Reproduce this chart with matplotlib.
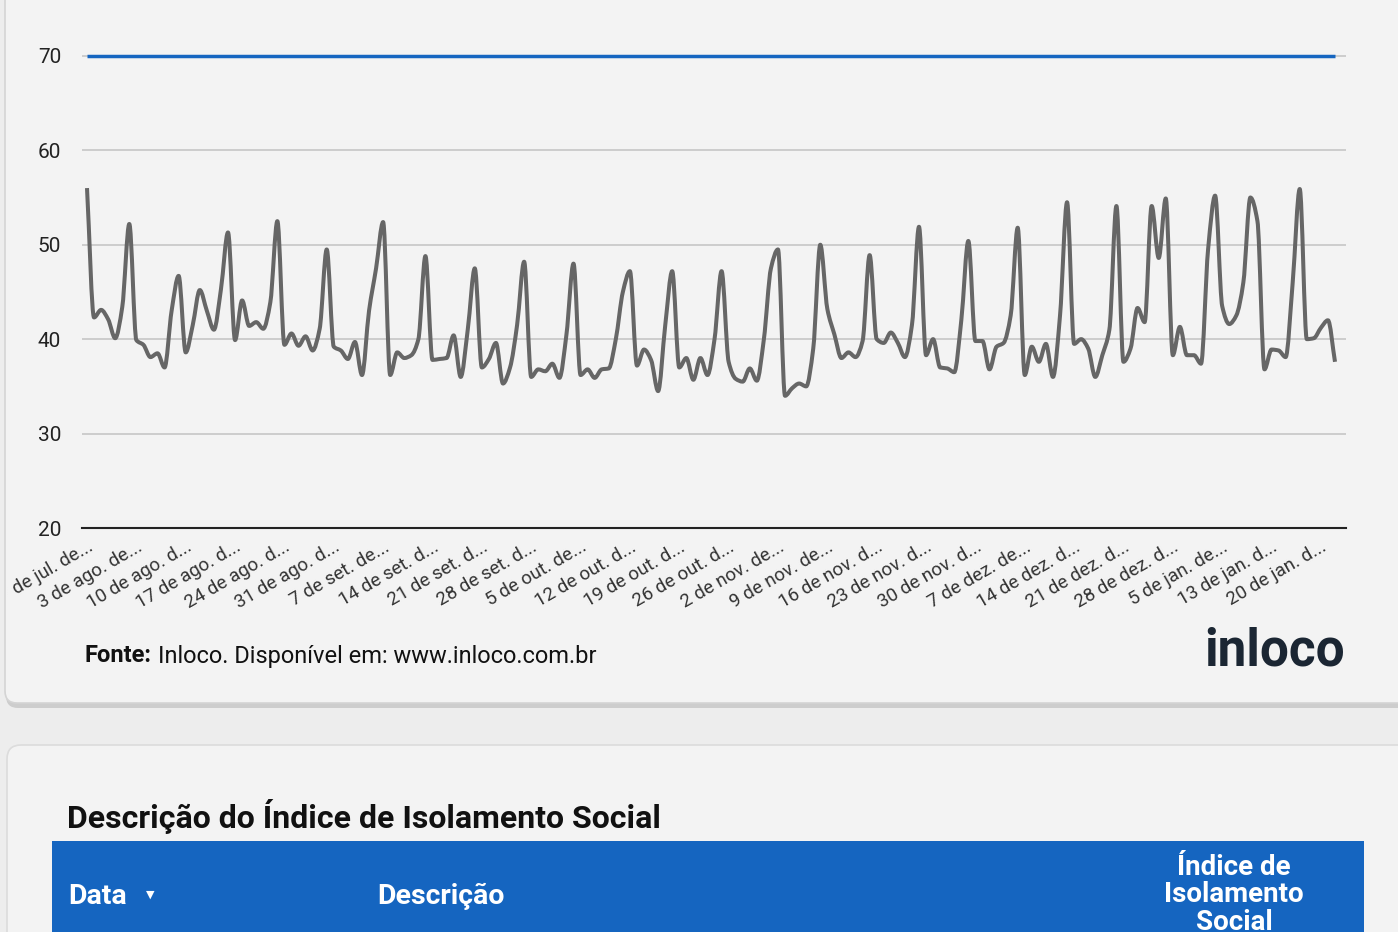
import numpy as np
import matplotlib
matplotlib.use("Agg")
import matplotlib.pyplot as plt
from matplotlib.path import Path
from matplotlib.patches import PathPatch, FancyBboxPatch, Rectangle
from matplotlib.transforms import IdentityTransform, Bbox

plt.rcParams['font.family'] = ['Roboto', 'DejaVu Sans']

# daily social isolation index (%), 27 jul -> 22 jan
isolamento = [
    56.0, 42.3, 43.1, 42.1, 40.1, 43.4, 52.2,
    39.9, 39.4, 38.1, 38.5, 37.0, 43.0, 46.7,
    38.6, 41.5, 45.2, 43.0, 41.0, 45.3, 51.3,
    39.9, 44.1, 41.4, 41.8, 41.1, 43.9, 52.5,
    39.4, 40.6, 39.3, 40.3, 38.8, 41.1, 49.5,
    39.2, 38.8, 37.9, 39.7, 36.2, 43.0, 47.5,
    52.4, 36.2, 38.6, 38.0, 38.3, 40.0, 48.8,
    37.8, 37.9, 38.0, 40.4, 36.0, 41.0, 47.5,
    37.0, 37.9, 39.6, 35.3, 37.0, 41.5, 48.2,
    36.0, 36.8, 36.6, 37.4, 35.9, 40.5, 48.0,
    36.2, 36.8, 35.9, 36.8, 36.9, 40.0, 45.0,
    47.2, 37.2, 38.9, 37.8, 34.5, 41.4, 47.2,
    37.0, 38.0, 35.7, 38.0, 36.2, 40.0, 47.2,
    37.6, 35.8, 35.5, 36.9, 35.6, 40.0, 47.5,
    49.5, 34.0, 34.8, 35.3, 35.0, 39.0, 50.0,
    43.2, 40.5, 38.0, 38.6, 38.1, 39.8, 48.9,
    40.0, 39.6, 40.7, 39.6, 38.1, 41.5, 51.9,
    38.3, 40.0, 37.0, 36.9, 36.5, 42.0, 50.4,
    39.8, 39.8, 36.8, 39.2, 39.6, 42.5, 51.8,
    36.2, 39.2, 37.6, 39.5, 36.0, 42.5, 54.5,
    39.5, 40.0, 39.0, 36.0, 38.3, 41.0, 54.1,
    37.6, 39.0, 43.3, 41.8, 54.1, 48.6, 54.9,
    38.3, 41.3, 38.3, 38.3, 37.4, 49.5, 55.2,
    43.5, 41.6, 42.5, 46.0, 55.0, 52.5, 36.8,
    38.9, 38.8, 38.1, 46.0, 55.9, 40.0, 40.1,
    41.2, 42.0, 37.6,
]
meta = 70

tick_labels = [
    "27 de jul. de...", "3 de ago. de...", "10 de ago. d...", "17 de ago. d...",
    "24 de ago. d...", "31 de ago. d...", "7 de set. de...", "14 de set. d...",
    "21 de set. d...", "28 de set. d...", "5 de out. de...", "12 de out. d...",
    "19 de out. d...", "26 de out. d...", "2 de nov. de...", "9 de nov. de...",
    "16 de nov. d...", "23 de nov. d...", "30 de nov. d...", "7 de dez. de...",
    "14 de dez. d...", "21 de dez. d...", "28 de dez. d...", "5 de jan. de...",
    "13 de jan. d...", "20 de jan. d...",
]
y_ticks = [20, 30, 40, 50, 60, 70]

W, H = 1398, 932


def smooth_path(x, y):
    # monotone cubic (Fritsch-Carlson) drawn as bezier segments
    x = np.asarray(x, float)
    y = np.asarray(y, float)
    h = np.diff(x)
    d = np.diff(y) / h
    m = np.zeros_like(y)
    m[0], m[-1] = d[0], d[-1]
    for i in range(1, len(y) - 1):
        if d[i - 1] * d[i] <= 0:
            m[i] = 0
        else:
            m[i] = 2 / (1 / d[i - 1] + 1 / d[i])
    verts = [(x[0], y[0])]
    codes = [Path.MOVETO]
    for i in range(len(x) - 1):
        verts += [(x[i] + h[i] / 3, y[i] + m[i] * h[i] / 3),
                  (x[i + 1] - h[i] / 3, y[i + 1] - m[i + 1] * h[i] / 3),
                  (x[i + 1], y[i + 1])]
        codes += [Path.CURVE4] * 3
    return Path(verts, codes)


fig = plt.figure(figsize=(W / 100, H / 100), dpi=100)
fig.patch.set_facecolor('#ededed')
px = IdentityTransform()

# cards (pixel coords, origin bottom-left)
fig.add_artist(FancyBboxPatch((6, H - 708), 1420, 740, boxstyle="round,pad=0,rounding_size=12",
                              transform=px, fc='#cdcdcd', ec='none', zorder=-3))
fig.add_artist(FancyBboxPatch((5, H - 703), 1420, 740, boxstyle="round,pad=0,rounding_size=12",
                              transform=px, fc='#f3f3f3', ec='#d4d4d4', lw=1.2, zorder=-2))
fig.add_artist(FancyBboxPatch((7, -40), 1420, H - 745 + 40, boxstyle="round,pad=0,rounding_size=14",
                              transform=px, fc='#f3f3f3', ec='#dcdcdc', lw=1.2, zorder=-2))
fig.add_artist(Rectangle((52, -20), 1312, H - 841 + 20, transform=px,
                         fc='#1565c0', ec='none', zorder=-1))

# chart
x0_px, x1_px = 82, 1346
ax = fig.add_axes([x0_px / W, 1 - 528 / H, (x1_px - x0_px) / W, (528 - 37) / H])
ax.set_facecolor('none')
n = len(isolamento)
xs = np.arange(n)
ax.set_xlim(-5 / 7.05, n - 1 + 11 / 7.05)
ax.set_ylim(20, 72)

for v in y_ticks[1:]:
    ax.axhline(v, color='#cccccc', lw=1.4, zorder=1)
ax.hlines(meta, xs[0], xs[-1], color='#1565c0', lw=2.5, zorder=3)
ax.add_patch(PathPatch(smooth_path(xs, isolamento), fc='none', ec='#666666',
                       lw=2.9, capstyle='butt', joinstyle='round', zorder=4))

for s in ['top', 'right', 'left']:
    ax.spines[s].set_visible(False)
ax.spines['bottom'].set_color('#222222')
ax.spines['bottom'].set_linewidth(1.5)
ax.spines['bottom'].set_zorder(5)

ax.set_yticks(y_ticks)
ax.set_yticklabels([str(v) for v in y_ticks], fontsize=15, color='#222222')
ax.tick_params(axis='y', length=0, pad=15)

ax.set_xticks(xs[::7])
ax.set_xticklabels(tick_labels, rotation=30, ha='right', va='top',
                   rotation_mode='anchor', fontsize=13.5, color='#333333')
ax.tick_params(axis='x', length=0, pad=7)
first = ax.get_xticklabels()[0]
first.set_clip_box(Bbox([[7, 0], [W, H]]))
first.set_clip_on(True)

# footer of chart card
fig.text(84 / W, 1 - 656 / H, "Fonte:", fontsize=17, fontweight='bold', color='#111111', va='center')
fig.text(158 / W, 1 - 656 / H, "Inloco. Disponível em: www.inloco.com.br", fontsize=17,
         color='#111111', va='center')
fig.text(1345 / W, 1 - 652 / H, "inloco", fontsize=37, fontweight='bold', color='#1b2633',
         ha='right', va='center')

# table card
fig.text(67 / W, 1 - 816 / H, "Descrição do Índice de Isolamento Social", fontsize=23,
         fontweight='bold', color='#111111', va='center')
fig.text(68 / W, 1 - 896 / H, "Data", fontsize=20.5, fontweight='bold', color='white', va='center')
fig.text(150 / W, 1 - 895 / H, "▼", fontsize=8, color='white', va='center', ha='center',
         family=['DejaVu Sans'])
fig.text(377 / W, 1 - 896 / H, "Descrição", fontsize=20.5, fontweight='bold', color='white', va='center')
fig.text(1234 / W, 1 - 895 / H, "Índice de\nIsolamento\nSocial", fontsize=20, fontweight='bold',
         color='white', va='center', ha='center', multialignment='center', linespacing=1.02)

fig.savefig("out.png", dpi=100, facecolor=fig.get_facecolor())
